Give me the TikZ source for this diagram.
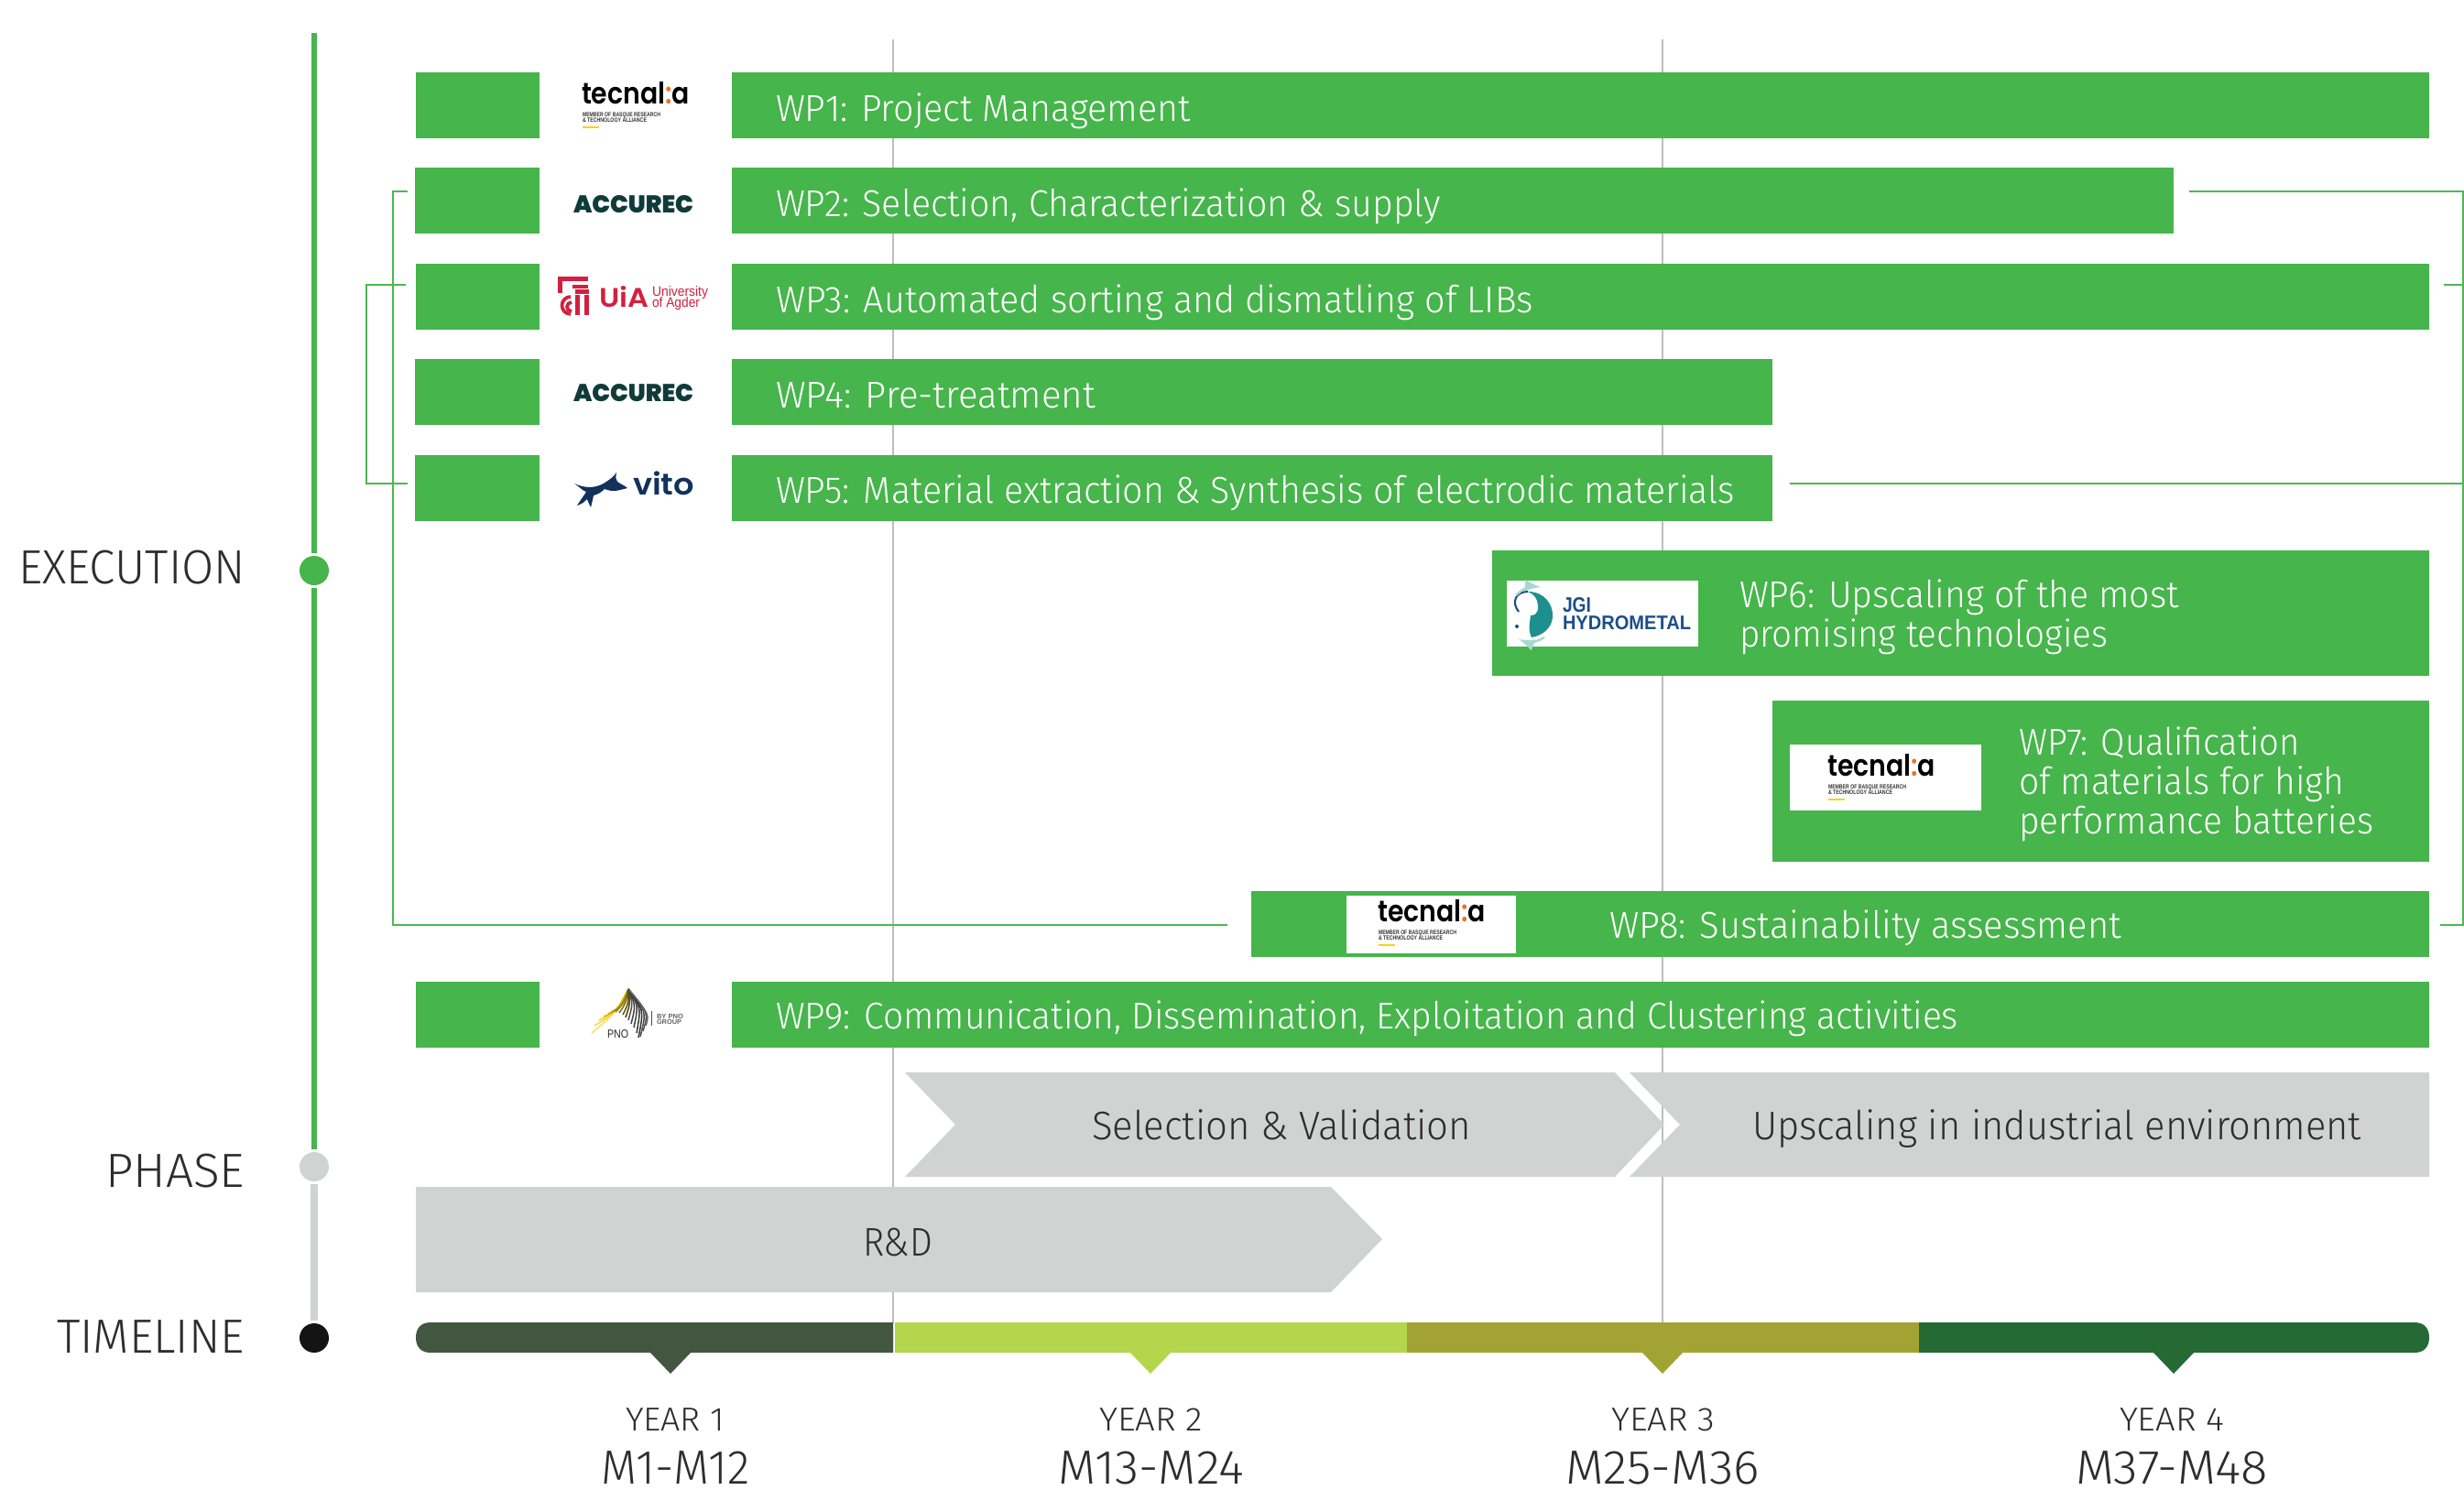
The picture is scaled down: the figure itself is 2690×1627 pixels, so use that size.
\documentclass[tikz,border=0pt]{standalone}
\usepackage{fontspec}
\setmainfont{Fira Sans Light}
\newfontfamily\pop{Poppins}
\newfontfamily\popx{Poppins Black}
\newfontfamily\pops{Poppins SemiBold}
\newfontfamily\lib{Liberation Sans}
\newdimen\pxu \pxu=0.01cm
\def\pxs{0.01cm}
\definecolor{wpgreen}{HTML}{46B54B}
\definecolor{linkgreen}{HTML}{4DB852}
\definecolor{phgrey}{HTML}{D1D3D2}
\definecolor{gridgrey}{HTML}{BDBFBE}
\definecolor{inkc}{HTML}{2E2C2D}
\definecolor{ydark}{HTML}{425640}
\definecolor{ylight}{HTML}{B5D54C}
\definecolor{yolive}{HTML}{A3A333}
\definecolor{yforest}{HTML}{256935}
\definecolor{tecor}{HTML}{F0702A}
\definecolor{tecye}{HTML}{F7D21E}
\definecolor{acc}{HTML}{0F3B3A}
\definecolor{uia}{HTML}{D2203F}
\definecolor{vit}{HTML}{12315C}
\definecolor{jgib}{HTML}{1C4E86}
\definecolor{jgit}{HTML}{1E8F8C}
\definecolor{jgil}{HTML}{A9D8D2}
\newcommand{\fitw}[2]{\resizebox{#1\pxu}{\height}{#2}}
\newcommand{\fitwh}[3]{\resizebox{#1\pxu}{#2\pxu}{#3}}
\tikzset{
 x=0.01cm,y=-0.01cm,
 wpbox/.style={fill=wpgreen,draw=none,inner sep=0pt,outer sep=0pt,anchor=north west},
 logobox/.style={fill=white,draw=none,inner sep=0pt,outer sep=0pt,anchor=north west},
 txt/.style={inner sep=0pt,outer sep=0pt,anchor=base west},
 wptxt/.style={txt,text=white,font=\fontsize{11.6}{12}\selectfont},
 chevtxt/.style={txt,text=inkc,font=\fontsize{12.4}{13}\selectfont},
 sidetxt/.style={txt,text=inkc,font=\fontsize{14.9}{15}\selectfont},
 yeartxt/.style={txt,text=inkc,font=\fontsize{10.3}{11}\selectfont},
 montxt/.style={txt,text=inkc,font=\fontsize{14.9}{15}\selectfont},
 dotn/.style={circle,inner sep=0pt,outer sep=0pt,minimum size=32*\pxs,draw=none},
 link/.style={draw=linkgreen,line width=0.8pt},
 gridl/.style={draw=gridgrey,line width=0.55pt},
}
\newcommand{\wpb}[5]{\node[wpbox,minimum width=#4*\pxs,minimum height=#5*\pxs] (#1) at (#2,#3) {};}
\newcommand{\lgbox}[5]{\node[logobox,minimum width=#4*\pxs,minimum height=#5*\pxs] (#1) at (#2,#3) {};}
\newcommand{\tecn}[3]{%
 \begin{scope}[shift={(#2,#3)}]
 \node[txt,text=black,font=\pops\fontsize{9.2}{10}\selectfont] (#1a) at (635,113) {\fitw{118}{tecnal{\color{tecor}:}a}};
 \node[txt,text=black!80,font=\lib\bfseries\fontsize{1.9}{2}\selectfont] (#1b) at (636,127) {\fitw{85}{MEMBER OF BASQUE RESEARCH}};
 \node[txt,text=black!80,font=\lib\bfseries\fontsize{1.9}{2}\selectfont] (#1c) at (636,133) {\fitw{70}{\&\ TECHNOLOGY ALLIANCE}};
 \fill[tecye] (636,138) rectangle (654,140);
 \end{scope}}
\newcommand{\accu}[3]{\node[txt,text=acc,font=\popx\fontsize{8}{9}\selectfont] (#1) at (#2,#3) {\fitwh{131}{19}{ACCUREC}};}
\begin{document}
\begin{tikzpicture}
\useasboundingbox (0,0) rectangle (2690,1626.5);
\fill[white] (0,0) rectangle (2690,1626.5);
% grid lines
\coordinate (g1t) at (975,43); \coordinate (g1b) at (975,1445);
\coordinate (g2t) at (1815,43); \coordinate (g2b) at (1815,1445);
\draw[gridl] (g1t) -- (g1b);
\draw[gridl] (g2t) -- (g2b);
% spine
\node[dotn,fill=wpgreen] (dexec) at (343,623) {};
\node[dotn,fill=phgrey] (dphase) at (343,1274) {};
\node[dotn,fill=black!92] (dtime) at (343,1461) {};
\coordinate (stop) at (343,36);
\draw[wpgreen,line width=1.5pt,shorten >=3*\pxs] (stop) -- (dexec.north);
\draw[wpgreen,line width=1.5pt,shorten <=3*\pxs,shorten >=3*\pxs] (dexec.south) -- (dphase.north);
\draw[phgrey,line width=2.5pt,shorten <=3*\pxs,shorten >=3*\pxs] (dphase.south) -- (dtime.north);
\node[sidetxt] (lexec) at (20,637) {\fitw{248}{EXECUTION}};
\node[sidetxt] (lphase) at (115,1296) {\fitw{152}{PHASE}};
\node[sidetxt] (ltime) at (62,1477) {\fitw{205}{TIMELINE}};
% brackets
\coordinate (a1) at (445,209); \coordinate (a2) at (429,209); \coordinate (a3) at (429,1010); \coordinate (a4) at (1340,1010);
\draw[link] (a1) -- (a2) -- (a3) -- (a4);
\coordinate (b1) at (443,311); \coordinate (b2) at (400,311); \coordinate (b3) at (400,528); \coordinate (b4) at (445,528);
\draw[link] (b1) -- (b2) -- (b3) -- (b4);
\coordinate (c1) at (2390,209); \coordinate (c2) at (2689,209); \coordinate (c3) at (2689,1010); \coordinate (c4) at (2664,1010);
\draw[link] (c1) -- (c2) -- (c3) -- (c4);
\coordinate (d1) at (2668,311); \coordinate (d2) at (2689,311);
\draw[link] (d1) -- (d2);
\coordinate (e1) at (1954,528); \coordinate (e2) at (2689,528);
\draw[link] (e1) -- (e2);
% left boxes
\wpb{l1}{454}{79}{135}{72}
\wpb{l2}{453}{183}{136}{72}
\wpb{l3}{454}{288}{135}{72}
\wpb{l4}{453}{392}{136}{72}
\wpb{l5}{453}{497}{136}{72}
\wpb{l9}{454}{1072}{135}{72}
% bars
\wpb{w1}{799}{79}{1853}{72}
\wpb{w2}{799}{183}{1574}{72}
\wpb{w3}{799}{288}{1853}{72}
\wpb{w4}{799}{392}{1136}{72}
\wpb{w5}{799}{497}{1136}{72}
\wpb{w6}{1629}{601}{1023}{137}
\wpb{w7}{1935}{765}{717}{176}
\wpb{w8}{1366}{973}{1286}{72}
\wpb{w9}{799}{1072}{1853}{72}
\lgbox{g6}{1645}{634}{209}{72}
\lgbox{g7}{1954}{813}{209}{72}
\lgbox{g8}{1470}{978}{185}{63}
% wp labels
\node[wptxt] (t1) at (847,132) {\fitw{453}{WP1: Project Management}};
\node[wptxt] (t2) at (847,236) {\fitw{726}{WP2: Selection, Characterization \& supply}};
\node[wptxt] (t3) at (847,341) {\fitw{827}{WP3: Automated sorting and dismatling of LIBs}};
\node[wptxt] (t4) at (847,445) {\fitw{349}{WP4: Pre-treatment}};
\node[wptxt] (t5) at (847,549) {\fitw{1047}{WP5: Material extraction \& Synthesis of electrodic materials}};
\node[wptxt] (t6a) at (1899,663) {\fitw{480}{WP6: Upscaling of the most}};
\node[wptxt] (t6b) at (1899,706) {\fitw{402}{promising technologies}};
\node[wptxt] (t7a) at (2204,824) {\fitw{307}{WP7: Qualification}};
\node[wptxt] (t7b) at (2204,867) {\fitw{355}{of materials for high}};
\node[wptxt] (t7c) at (2204,910) {\fitw{387}{performance batteries}};
\node[wptxt] (t8) at (1757,1024) {\fitw{559}{WP8: Sustainability assessment}};
\node[wptxt] (t9) at (847,1123) {\fitw{1291}{WP9: Communication, Dissemination, Exploitation and Clustering activities}};
% logos
\tecn{lo1}{0}{0}
\tecn{lo7}{1360}{734}
\tecn{lo8}{869}{893}
\accu{lo2}{626}{232}
\accu{lo4}{626}{438}
% UiA
\begin{scope}[uia]
 \fill (609,302) rectangle (642,306.5);
 \fill (609,302) rectangle (613.5,320);
 \fill (625,311) rectangle (642,315);
 \fill (628,316) rectangle (643,320.5);
 \fill (628,322) rectangle (633,344);
 \fill (638,322) rectangle (643,344);
 \draw[line width=1.05pt] (623,324) arc[start angle=270,end angle=90,radius=9.5];
 \draw[line width=1.05pt] (624,330) arc[start angle=270,end angle=90,radius=5];
\end{scope}
\node[txt,text=uia,font=\pops\fontsize{8}{9}\selectfont] (uia1) at (654,335) {\fitwh{54}{23}{UiA}};
\node[txt,text=uia,font=\lib\fontsize{4.3}{5}\selectfont] (uia2) at (712,323) {\fitw{61}{University}};
\node[txt,text=uia,font=\lib\fontsize{4.3}{5}\selectfont] (uia3) at (712,335) {\fitw{52}{of Agder}};
% vito
\fill[vit] (627,528) .. controls (640,534) and (652,533) .. (662,526) .. controls (668,522) and (670,520) .. (673,516)
 .. controls (672,521) and (672,524) .. (674,526) .. controls (678,529) and (682,530) .. (685,533)
 .. controls (680,534) and (675,536) .. (670,536) .. controls (666,536) and (663,535) .. (660,534)
 .. controls (656,538) and (652,540) .. (648,541) .. controls (647,546) and (646,550) .. (645,554)
 .. controls (643,550) and (642,548) .. (641,545) .. controls (638,548) and (636,550) .. (630,552)
 .. controls (633,547) and (637,542) .. (640,537) .. controls (636,536) and (632,531) .. (627,528) -- cycle;
\node[txt,text=vit,font=\pops\fontsize{9.3}{10}\selectfont] (vito) at (691,540) {\fitw{67}{vito}};
% PNO
\foreach \ex/\ey/\cx/\cy/\cc in {
 646/1128/670/1108/tecye!70,
 649/1120/672/1106/tecye!85,
 654/1114/674/1104/tecye,
 659/1110/676/1102/tecye!90!black,
 664/1107/677/1100/tecye!80!black,
 668/1105/679/1098/tecye!70!black,
 672/1105/681/1096/tecye!60!black,
 676/1106/683/1096/tecye!50!black,
 680/1108/686/1096/tecye!40!black,
 683/1111/688/1096/tecye!30!black,
 686/1114/691/1096/black!70,
 689/1118/694/1098/black!75,
 692/1122/697/1098/black!75,
 695/1128/700/1100/black!80,
 697/1133/703/1102/black!80,
 699/1132/706/1104/black!70,
 702/1126/708/1106/black!65,
 705/1120/709/1108/black!60}{
 \draw[\cc,line width=0.42pt] (686,1080) .. controls (\cx,\cy) .. (\ex,\ey);
}
\node[txt,text=black!85,font=\lib\fontsize{3.6}{4}\selectfont] (pno1) at (663,1133) {\fitw{23}{PNO}};
\draw[black!70,line width=0.25pt] (711,1104) -- (711,1120);
\node[txt,text=black!60,font=\lib\bfseries\fontsize{2.1}{3}\selectfont] (pno2) at (717,1112) {\fitw{29}{BY PNO}};
\node[txt,text=black!60,font=\lib\bfseries\fontsize{2.1}{3}\selectfont] (pno3) at (717,1118) {\fitw{27}{GROUP}};
% JGI
\fill[jgit] (1668,646) .. controls (1686,646) and (1696,660) .. (1695,674) .. controls (1694,686) and (1684,694) .. (1672,696)
 .. controls (1668,688) and (1670,680) .. (1671,672) .. controls (1680,672) and (1680,664) .. (1678,656) .. controls (1676,650) and (1672,648) .. (1668,646) -- cycle;
\draw[jgib,line width=0.6pt] (1658,668) .. controls (1650,658) and (1654,646) .. (1668,646);
\draw[jgil,line width=0.7pt,-latex] (1655,650) .. controls (1662,643) and (1672,640) .. (1682,641);
\draw[jgil,line width=0.7pt,-latex] (1686,696) .. controls (1678,701) and (1668,702) .. (1658,698);
\fill[jgib] (1656,684) circle (2);
\node[txt,text=jgib,font=\lib\bfseries\fontsize{5.6}{6}\selectfont] (jgi1) at (1706,668) {\fitwh{31}{16}{JGI}};
\node[txt,text=jgib,font=\lib\bfseries\fontsize{5.6}{6}\selectfont] (jgi2) at (1706,687) {\fitwh{140}{15}{HYDROMETAL}};
% phase arrows
\fill[phgrey] (988,1171) -- (1763,1171) -- (1817,1228) -- (1763,1285) -- (988,1285) -- (1043,1228) -- cycle;
\fill[phgrey] (1779,1171) -- (2652,1171) -- (2652,1285) -- (1779,1285) -- (1834,1228) -- cycle;
\fill[phgrey] (454,1296) -- (1453,1296) -- (1509,1353) -- (1453,1411) -- (454,1411) -- cycle;
\node[chevtxt] (p1) at (1192,1244) {\fitw{414}{Selection \& Validation}};
\node[chevtxt] (p2) at (1913,1244) {\fitw{665}{Upscaling in industrial environment}};
\node[chevtxt] (p3) at (942,1371) {\fitw{76}{R\&D}};
% timeline
\fill[ydark] (975,1444) -- (470,1444) .. controls (459,1444) and (454,1451) .. (454,1460.5) .. controls (454,1470) and (459,1477) .. (470,1477) -- (710,1477) -- (732,1500) -- (754,1477) -- (975,1477) -- cycle;
\fill[ylight] (977,1444) -- (1536,1444) -- (1536,1477) -- (1278,1477) -- (1256,1500) -- (1234,1477) -- (977,1477) -- cycle;
\fill[yolive] (1536,1444) -- (2095,1444) -- (2095,1477) -- (1837,1477) -- (1815,1500) -- (1793,1477) -- (1536,1477) -- cycle;
\fill[yforest] (2095,1444) -- (2636,1444) .. controls (2647,1444) and (2652,1451) .. (2652,1460.5) .. controls (2652,1470) and (2647,1477) .. (2636,1477) -- (2395,1477) -- (2373,1500) -- (2351,1477) -- (2095,1477) -- cycle;
\node[yeartxt] (y1) at (683,1562) {\fitw{108}{YEAR 1}};
\node[yeartxt] (y2) at (1200,1562) {\fitw{113}{YEAR 2}};
\node[yeartxt] (y3) at (1759,1562) {\fitw{113}{YEAR 3}};
\node[yeartxt] (y4) at (2314,1562) {\fitw{114}{YEAR 4}};
\node[montxt] (m1) at (656,1620) {\fitw{163}{M1-M12}};
\node[montxt] (m2) at (1155,1620) {\fitw{203}{M13-M24}};
\node[montxt] (m3) at (1709,1620) {\fitw{212}{M25-M36}};
\node[montxt] (m4) at (2266,1620) {\fitw{210}{M37-M48}};
\end{tikzpicture}
\end{document}
